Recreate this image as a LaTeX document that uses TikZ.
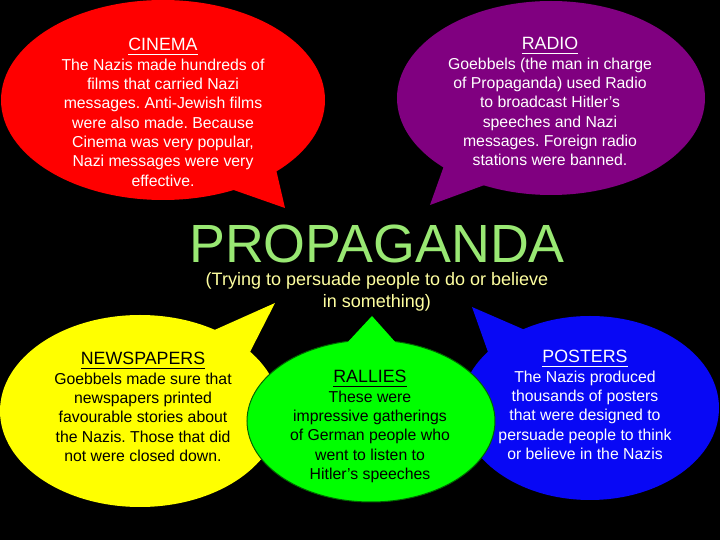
\documentclass[tikz,border=0pt]{standalone}
\usepackage{fontspec}
\setmainfont{Liberation Sans}
\frenchspacing
\usetikzlibrary{positioning}
\definecolor{cinemared}{RGB}{255,0,0}
\definecolor{radiopurple}{RGB}{128,0,128}
\definecolor{newsyellow}{RGB}{255,255,0}
\definecolor{rallygreen}{RGB}{0,255,0}
\definecolor{posterblue}{RGB}{8,8,245}
\definecolor{titlegreen}{RGB}{153,232,115}
\definecolor{subyellow}{RGB}{255,255,160}

\begin{document}
\begin{tikzpicture}[x=0.5pt,y=-0.5pt,
	head/.style={anchor=base,inner sep=0pt,font=\fontsize{8.9}{10}\selectfont},
	body/.style={inner sep=0pt,align=center,font=\fontsize{7.9}{9.65}\selectfont}]

	\fill[black] (0,0) rectangle (720,540);

	% bubbles
	\fill[cinemared] (163,100) ellipse (162 and 100);
	\fill[cinemared] (228,188) -- (285,208) -- (275,165) -- cycle;
	\fill[radiopurple] (551,98) ellipse (154 and 97);
	\fill[radiopurple] (445,163) -- (430,205) -- (490,183) -- cycle;
	\fill[newsyellow] (140,411) ellipse (140 and 96);
	\fill[newsyellow] (210,332) -- (275,303) -- (250,352) -- cycle;
	\fill[posterblue] (590,408) ellipse (129 and 92);
	\fill[posterblue] (488,352) -- (472,307) -- (525,330) -- cycle;
	\draw[green!40!black,fill=rallygreen,line width=0.5pt] (371,421) ellipse (124 and 81);
	\fill[rallygreen] (346,344) -- (372,316) -- (397,344) -- cycle;

	% texts
	\node[head,white] (cinT) at (163,51) {\underline{CINEMA}};
	\node[body,white] (cinB) [below=3.7pt of cinT.base] {The Nazis made hundreds of\\films that carried Nazi\\messages. Anti-Jewish films\\were also made. Because\\Cinema was very popular,\\Nazi messages were very\\effective.};

	\node[head,white] (radT) at (550,50) {\underline{RADIO}};
	\node[body,white] (radB) [below=3.7pt of radT.base] {Goebbels (the man in charge\\of Propaganda) used Radio\\to broadcast Hitler’s\\speeches and Nazi\\messages. Foreign radio\\stations were banned.};

	\node[head,black] (newT) at (143,365) {\underline{NEWSPAPERS}};
	\node[body,black] (newB) [below=3.7pt of newT.base] {Goebbels made sure that\\newspapers printed\\favourable stories about\\the Nazis. Those that did\\not were closed down.};

	\node[head,black] (ralT) at (370,383) {\underline{RALLIES}};
	\node[body,black] (ralB) [below=3.7pt of ralT.base] {These were\\impressive gatherings\\of German people who\\went to listen to\\Hitler’s speeches};

	\node[head,white] (posT) at (585,363) {\underline{POSTERS}};
	\node[body,white] (posB) [below=3.7pt of posT.base] {The Nazis produced\\thousands of posters\\that were designed to\\persuade people to think\\or believe in the Nazis};

	\node[anchor=base,inner sep=0pt,titlegreen,font=\fontsize{26.9}{30}\selectfont] (prop) at (377,263) {PROPAGANDA};
	\node[body,subyellow,font=\fontsize{9}{11}\selectfont] (sub) [below=4.3pt of prop.base] {(Trying to persuade people to do or believe\\in something)};
\end{tikzpicture}
\end{document}
